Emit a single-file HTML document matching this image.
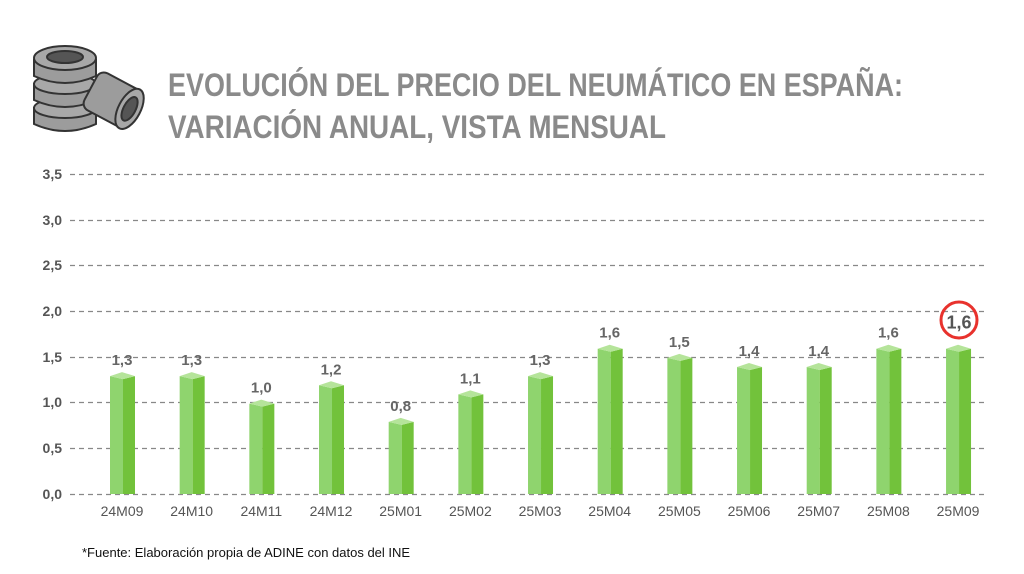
<!DOCTYPE html>
<html><head><meta charset="utf-8"><style>
html,body{margin:0;padding:0;background:#fff;}
svg{display:block;font-family:"Liberation Sans",sans-serif;}
</style></head><body>
<svg width="1024" height="574" viewBox="0 0 1024 574" xmlns="http://www.w3.org/2000/svg">
<g stroke="#333" stroke-width="2">
  <path d="M34 108 h62 v16 q-31 14 -62 0 z" fill="#9c9c9c"/>
  <ellipse cx="65" cy="108" rx="31" ry="10" fill="#a8a8a8"/>
  <path d="M34 84 h62 v16 q-31 14 -62 0 z" fill="#9c9c9c"/>
  <ellipse cx="65" cy="84" rx="31" ry="10" fill="#a8a8a8"/>
  <path d="M34 60 h62 v16 q-31 14 -62 0 z" fill="#9c9c9c"/>
  <ellipse cx="65" cy="58" rx="31" ry="12" fill="#a8a8a8"/>
  <ellipse cx="65" cy="57" rx="18" ry="6" fill="#555"/>
  <g transform="rotate(28 115 100)">
    <rect x="88" y="80" width="48" height="42" rx="8" fill="#9c9c9c"/>
    <ellipse cx="132" cy="101" rx="11" ry="22" fill="#a8a8a8"/>
    <ellipse cx="132" cy="101" rx="6" ry="13" fill="#555"/>
  </g>
</g>
<g fill="#8a8a8a" font-weight="bold" font-size="32" font-family="'Liberation Sans Narrow','Liberation Sans',sans-serif">
  <text x="168" y="96" textLength="735" lengthAdjust="spacingAndGlyphs">EVOLUCIÓN DEL PRECIO DEL NEUMÁTICO EN ESPAÑA:</text>
  <text x="168" y="138" textLength="498" lengthAdjust="spacingAndGlyphs">VARIACIÓN ANUAL, VISTA MENSUAL</text>
</g>
<g stroke="#888" stroke-width="1.3" stroke-dasharray="5,4">
  <line x1="70" x2="985" y1="174.5" y2="174.5"/><line x1="70" x2="985" y1="220.5" y2="220.5"/>
  <line x1="70" x2="985" y1="265.5" y2="265.5"/><line x1="70" x2="985" y1="311.5" y2="311.5"/>
  <line x1="70" x2="985" y1="357.5" y2="357.5"/><line x1="70" x2="985" y1="402.5" y2="402.5"/>
  <line x1="70" x2="985" y1="448.5" y2="448.5"/><line x1="70" x2="985" y1="494.5" y2="494.5"/>
</g>
<g fill="#555" font-size="14" font-weight="bold" text-anchor="end">
  <text x="62" y="179">3,5</text><text x="62" y="225">3,0</text><text x="62" y="270">2,5</text>
  <text x="62" y="316">2,0</text><text x="62" y="362">1,5</text><text x="62" y="407">1,0</text>
  <text x="62" y="453">0,5</text><text x="62" y="499">0,0</text>
</g>
<g id="bars"></g>
<g fill="#555" font-size="14" text-anchor="middle" id="xl"></g>
<g fill="#666" font-size="15" font-weight="bold" text-anchor="middle" id="vl"></g>
<circle cx="959" cy="320" r="18" fill="none" stroke="#e8322d" stroke-width="3"/>
<text x="82" y="557" font-size="13" fill="#111">*Fuente: Elaboración propia de ADINE con datos del INE</text>
<script>
var v=[1.3,1.3,1.0,1.2,0.8,1.1,1.3,1.6,1.5,1.4,1.4,1.6,1.6];
var l=["24M09","24M10","24M11","24M12","25M01","25M02","25M03","25M04","25M05","25M06","25M07","25M08","25M09"];
var NS="http://www.w3.org/2000/svg",b=document.getElementById("bars"),x=document.getElementById("xl"),vl=document.getElementById("vl");
function el(p,t,a,tx){var e=document.createElementNS(NS,t);for(var k in a)e.setAttribute(k,a[k]);if(tx)e.textContent=tx;p.appendChild(e);}
for(var i=0;i<13;i++){var c=122+i*69.67,t=494-v[i]*91.43;
el(b,"polygon",{points:(c-12)+","+(t+1)+" "+(c+1)+","+(t+4)+" "+(c+1)+",494 "+(c-12)+",494",fill:"#8fd46e"});
el(b,"polygon",{points:(c+1)+","+(t+4)+" "+(c+13)+","+(t+1)+" "+(c+13)+",494 "+(c+1)+",494",fill:"#72c23b"});
el(b,"polygon",{points:(c-12)+","+(t+1)+" "+(c)+","+(t-3)+" "+(c+13)+","+(t+1)+" "+(c+1)+","+(t+4),fill:"#b5e49a"});
el(x,"text",{x:c,y:516},l[i]);
var s=v[i].toFixed(1).replace(".",",");
if(i==12)el(vl,"text",{x:c+1,y:t-19,"font-size":"18",fill:"#555"},s);else el(vl,"text",{x:c,y:t-10},s);}
</script>
</svg>
</body></html>
